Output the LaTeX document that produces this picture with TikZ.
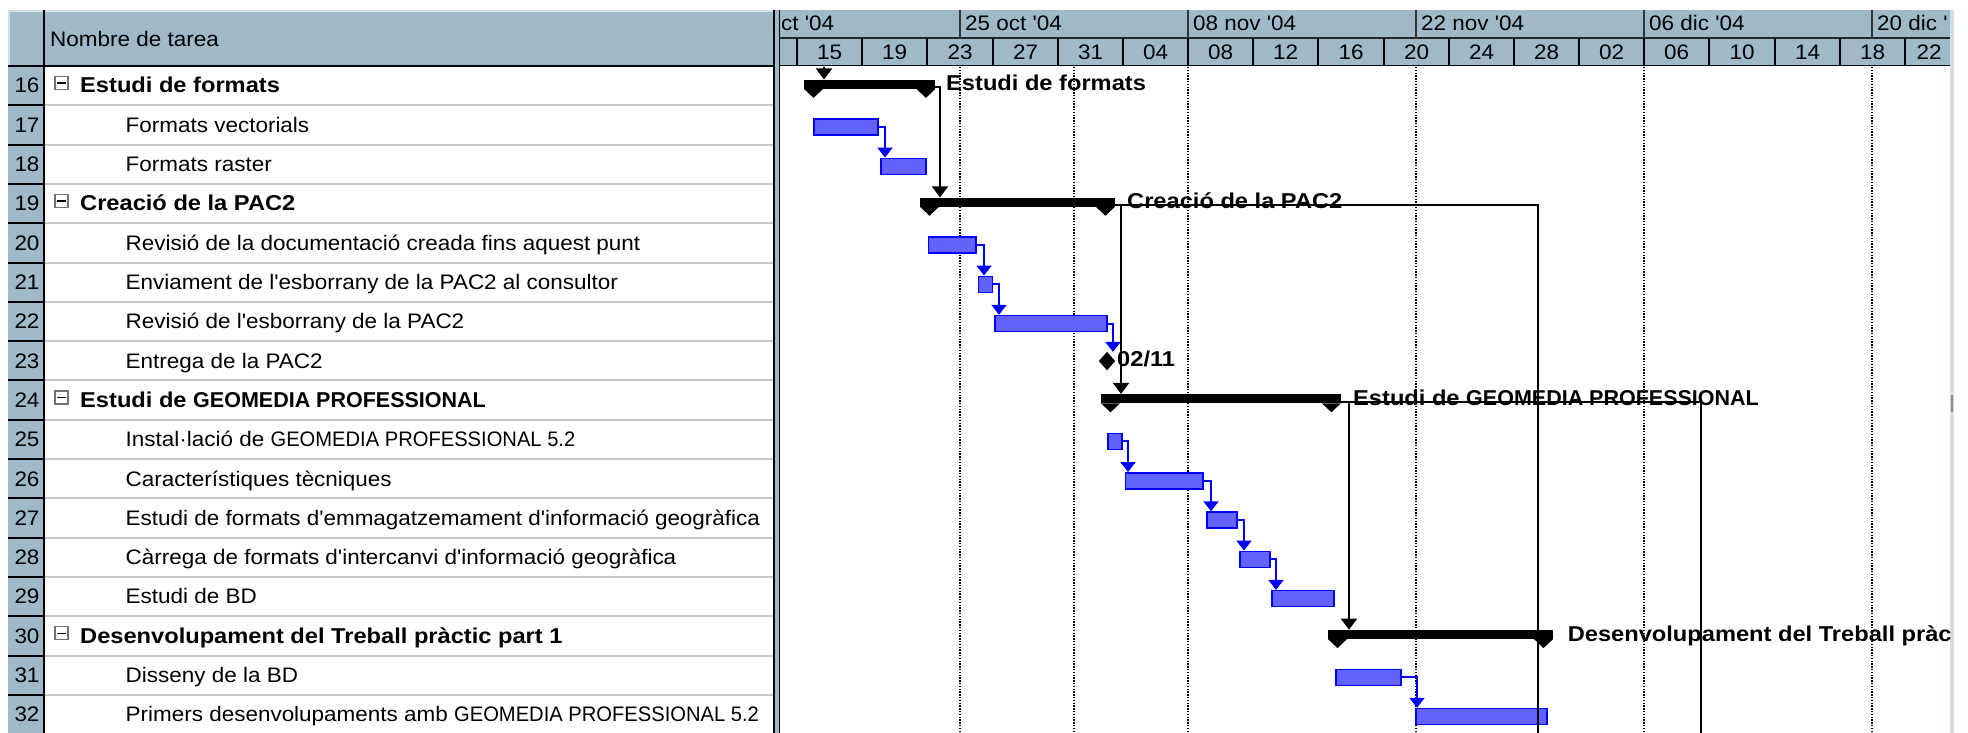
\documentclass[tikz,border=0pt]{standalone}
\usepackage{fontspec}
\newfontfamily\nf{Liberation Sans}[FakeStretch=1.07]
\newfontfamily\nfc{Liberation Sans}[FakeStretch=0.96]
\newfontfamily\bfnt{Liberation Sans}[FakeStretch=1.1]
\newfontfamily\bfntc{Liberation Sans}[FakeStretch=1.0]
\usetikzlibrary{arrows.meta}
\definecolor{hdr}{RGB}{159,185,201}
\definecolor{hdrhi}{RGB}{208,222,231}
\definecolor{rowln}{RGB}{200,200,200}
\definecolor{barfill}{RGB}{98,98,252}
\definecolor{barln}{RGB}{0,0,255}
\newcommand\capsn[1]{{\nfc\fontsize{21}{24}\selectfont #1}}
\newcommand\capsb[1]{{\bfntc\bfseries\fontsize{21.5}{24}\selectfont #1}}
\tikzset{
 tx/.style={anchor=base west, inner sep=0pt, font=\nf\fontsize{21}{24}\selectfont},
 bx/.style={anchor=base west, inner sep=0pt, font=\bfnt\bfseries\fontsize{21.5}{24}\selectfont},
 num/.style={anchor=base, inner sep=0pt, font=\nf\fontsize{21}{24}\selectfont},
 task/.style={draw=barln, line width=1.5pt, fill=barfill, inner sep=0pt, minimum height=16pt, anchor=north west},
 sumbar/.style={fill=black, inner sep=0pt, minimum height=9pt, anchor=north west},
 bconn/.style={draw=barln, line width=2pt, -{Triangle[width=15pt,length=10pt]}},
 kconn/.style={draw=black, line width=2pt, -{Triangle[width=16pt,length=11pt]}},
 kline/.style={draw=black, line width=2pt},
 gridln/.style={line width=1.4pt, dash pattern=on 1.4pt off 1.4pt},
 minusbox/.style={draw=black!55, fill=white, line width=1.2pt, minimum size=13pt, inner sep=0pt},
}
\newcommand\summ[4]{%
 \node[sumbar, minimum width={(#3-#2)*1pt}] (#1) at (#2,#4) {};
 \fill (#1.south west) -- ++(19,0) -- ++(-9.5,9) -- cycle;
 \fill (#1.south east) -- ++(-19,0) -- ++(9.5,9) -- cycle;}
\newcommand\tbar[4]{%
 \node[task, minimum width={(#3-#2)*1pt}] (#1) at (#2,#4) {};}
\newcommand\bcon[3]{%
 \coordinate (tmpv) at (#3,0);
 \draw[bconn] (#1.east) -| (tmpv |- #2.north);}
\newcommand\minusbx[2]{%
 \node[minusbox] (#1) at (61.5,#2) {};
 \draw[line width=1.3pt] ([xshift=3pt]#1.west) -- ([xshift=-3pt]#1.east);}
\begin{document}
\begin{tikzpicture}[x=1pt,y=-1pt]
\useasboundingbox (0,0) rectangle (1968,733);
\fill[white] (0,0) rectangle (1968,733);
% ---------- table ----------
\fill[hdr] (8,10) rectangle (773,66);
\fill[hdr] (8,66) rectangle (44,733);
\draw[hdrhi, line width=2pt] (9,66) -- (9,11) -- (44,11);
\draw[hdrhi, line width=1.5pt] (44,11) -- (773,11);
\draw[black, line width=2pt] (8,66) -- (773,66);
\draw[black, line width=2pt] (44,10) -- (44,733);
\foreach \y in {105.3,144.6,183.9,223.2,262.5,301.8,341.1,380.4,419.7,459.0,498.3,537.6,576.9,616.2,655.5,694.8}{
 \draw[rowln, line width=2pt] (45,\y) -- (773,\y);
 \draw[black, line width=2pt] (8,\y) -- (44,\y);
}
\node[tx] (hname) at (50,47) {Nombre de tarea};
% row numbers
\node[num] (n16) at (27,93.0) {16};
\node[num] (n17) at (27,132.3) {17};
\node[num] (n18) at (27,171.6) {18};
\node[num] (n19) at (27,210.9) {19};
\node[num] (n20) at (27,250.2) {20};
\node[num] (n21) at (27,289.5) {21};
\node[num] (n22) at (27,328.8) {22};
\node[num] (n23) at (27,368.1) {23};
\node[num] (n24) at (27,407.4) {24};
\node[num] (n25) at (27,446.7) {25};
\node[num] (n26) at (27,486.0) {26};
\node[num] (n27) at (27,525.3) {27};
\node[num] (n28) at (27,564.6) {28};
\node[num] (n29) at (27,603.9) {29};
\node[num] (n30) at (27,643.2) {30};
\node[num] (n31) at (27,682.5) {31};
\node[num] (n32) at (27,721.8) {32};
% task names
\minusbx{mb16}{83}
\minusbx{mb19}{200.9}
\minusbx{mb24}{397.4}
\minusbx{mb30}{633.2}
\node[bx] (t16) at (80,93.0) {Estudi de formats};
\node[tx] (t17) at (125.5,132.3) {Formats vectorials};
\node[tx] (t18) at (125.5,171.6) {Formats raster};
\node[bx] (t19) at (80,210.9) {Creació de la PAC2};
\node[tx] (t20) at (125.5,250.2) {Revisió de la documentació creada fins aquest punt};
\node[tx] (t21) at (125.5,289.5) {Enviament de l'esborrany de la PAC2 al consultor};
\node[tx] (t22) at (125.5,328.8) {Revisió de l'esborrany de la PAC2};
\node[tx] (t23) at (125.5,368.1) {Entrega de la PAC2};
\node[bx] (t24) at (80,407.4) {Estudi de \capsb{GEOMEDIA PROFESSIONAL}};
\node[tx] (t25) at (125.5,446.7) {Instal·lació de \capsn{GEOMEDIA PROFESSIONAL 5.2}};
\node[tx] (t26) at (125.5,486.0) {Característiques tècniques};
\node[tx] (t27) at (125.5,525.3) {Estudi de formats d'emmagatzemament d'informació geogràfica};
\node[tx] (t28) at (125.5,564.6) {Càrrega de formats d'intercanvi d'informació geogràfica};
\node[tx] (t29) at (125.5,603.9) {Estudi de BD};
\node[bx] (t30) at (80,643.2) {Desenvolupament del Treball pràctic part 1};
\node[tx] (t31) at (125.5,682.5) {Disseny de la BD};
\node[tx] (t32) at (125.5,721.8) {Primers desenvolupaments amb \capsn{GEOMEDIA PROFESSIONAL 5.2}};
% splitter
\fill[hdr] (773,10) rectangle (780,733);
\draw[black, line width=1.5pt] (774,10) -- (774,733);
\draw[black, line width=1.5pt] (779.5,10) -- (779.5,733);
% right strip
\fill[hdrhi] (1950,10) rectangle (1953.5,733);
\fill[black!45] (1950.5,395) rectangle (1953,412);
% ---------- chart header ----------
\begin{scope}
\clip (780,10) rectangle (1950,66);
\fill[hdr] (780,10) rectangle (1950,66);
\draw[black!85, line width=2pt] (780,38) -- (1950,38);
\draw[black, line width=2pt] (780,66) -- (1950,66);
\foreach \x in {960,1188,1416,1644,1872}{\draw[black!80, line width=1.6pt] (\x,10) -- (\x,38);}
\foreach \x in {797,862,927,993,1058,1123,1188,1253,1318,1384,1449,1514,1579,1644,1709,1775,1840,1905}{\draw[black, line width=1.6pt] (\x,38) -- (\x,66);}
\node[tx] (u0) at (781,31) {ct '04};
\node[tx] (u1) at (965,31) {25 oct '04};
\node[tx] (u2) at (1193,31) {08 nov '04};
\node[tx] (u3) at (1421,31) {22 nov '04};
\node[tx] (u4) at (1649,31) {06 dic '04};
\node[tx] (u5) at (1877,31) {20 dic '};
\node[num] (l1) at (829.5,60) {15};
\node[num] (l2) at (894.5,60) {19};
\node[num] (l3) at (960,60) {23};
\node[num] (l4) at (1025.5,60) {27};
\node[num] (l5) at (1090.5,60) {31};
\node[num] (l6) at (1155.5,60) {04};
\node[num] (l7) at (1220.5,60) {08};
\node[num] (l8) at (1285.5,60) {12};
\node[num] (l9) at (1351,60) {16};
\node[num] (l10) at (1416.5,60) {20};
\node[num] (l11) at (1481.5,60) {24};
\node[num] (l12) at (1546.5,60) {28};
\node[num] (l13) at (1611.5,60) {02};
\node[num] (l14) at (1676.5,60) {06};
\node[num] (l15) at (1742,60) {10};
\node[num] (l16) at (1807.5,60) {14};
\node[num] (l17) at (1872.5,60) {18};
\node[num] (l18) at (1929,60) {22};
\end{scope}
% ---------- chart body ----------
\begin{scope}
\clip (780,67) rectangle (1950,733);
\foreach \x in {960,1074,1188,1416,1644,1872}{\draw[gridln] (\x,67) -- (\x,733);}
% bars
\summ{s16}{804}{935}{79.5}
\summ{s19}{920}{1114.5}{197.4}
\summ{s24}{1101}{1340.5}{393.9}
\summ{s30}{1328}{1552.6}{629.7}
\tbar{b17}{813}{877}{118.3}
\tbar{b18}{880}{925}{157.6}
\tbar{b20}{927.5}{975}{236.2}
\tbar{b21}{977.5}{991.5}{275.5}
\tbar{b22}{994}{1106}{314.8}
\tbar{b25}{1107}{1121}{432.7}
\tbar{b26}{1124.5}{1202}{472}
\tbar{b27}{1206}{1236}{511.3}
\tbar{b28}{1239}{1269}{550.6}
\tbar{b29}{1271}{1333}{589.9}
\tbar{b31}{1335}{1400}{668.5}
\tbar{b32}{1415}{1546}{707.8}
\node[inner sep=0pt, minimum width=16pt, minimum height=18pt] (m23) at (1107,361.1) {};
\fill (m23.north) -- (m23.east) -- (m23.south) -- (m23.west) -- cycle;
% black links
\coordinate (a16) at (824,67);
\draw[kconn] (a16) -- (a16 |- s16.north);
\coordinate (v16) at (940,0);
\draw[kconn] ([yshift=1.5pt]s16.south east) -| (v16 |- s19.north);
\coordinate (e19) at (1537.5,740);
\draw[kline] ([yshift=1.5pt]s19.south east) -| (e19);
\coordinate (v19) at (1121,0);
\draw[kconn] ([yshift=1.5pt]s19.south east) -| (v19 |- s24.north);
\coordinate (e24) at (1700.7,740);
\draw[kline] ([yshift=1.5pt]s24.south east) -| (e24);
\coordinate (v24) at (1349,0);
\draw[kconn] ([yshift=1.5pt]s24.south east) -| (v24 |- s30.north);
% blue links
\bcon{b17}{b18}{885}
\bcon{b20}{b21}{984}
\bcon{b21}{b22}{999}
\bcon{b22}{m23}{1113}
\bcon{b25}{b26}{1128}
\bcon{b26}{b27}{1211}
\bcon{b27}{b28}{1244}
\bcon{b28}{b29}{1276}
\bcon{b31}{b32}{1417}
% labels
\node[bx] (c16) at (946,91) {Estudi de formats};
\node[bx] (c19) at (1127,208.9) {Creació de la PAC2};
\node[bx] (c23) at (1117,366.1) {02/11};
\node[bx] (c24) at (1353,405.4) {Estudi de \capsb{GEOMEDIA PROFESSIONAL}};
\node[bx] (c30) at (1567.6,641.2) {Desenvolupament del Treball pràc};
\end{scope}
\end{tikzpicture}
\end{document}
